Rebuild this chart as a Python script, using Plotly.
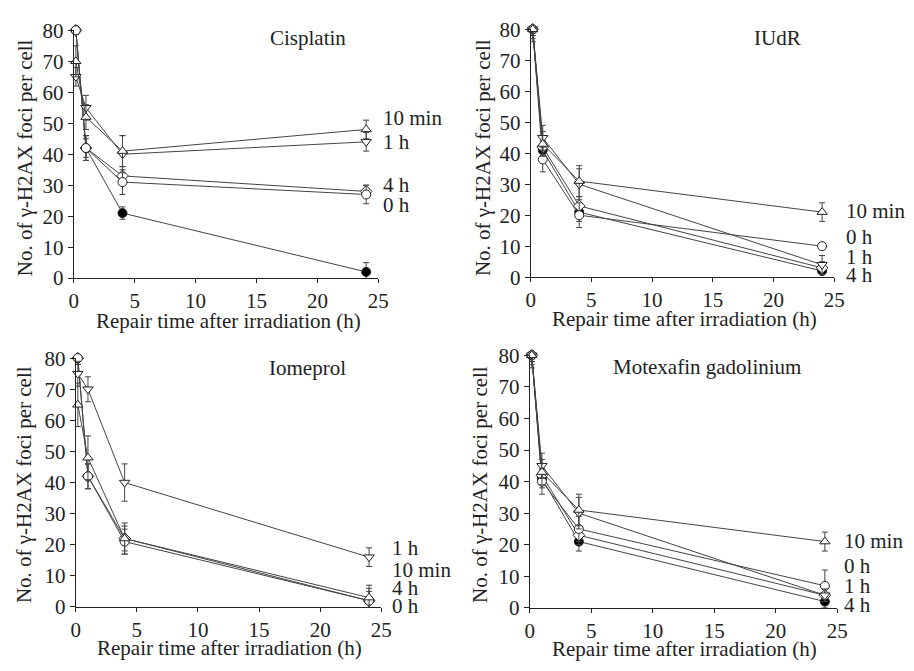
import plotly.graph_objects as go
from plotly.subplots import make_subplots

times = [0.17, 1, 4, 24]
panels = ["Cisplatin", "IUdR", "Iomeprol", "Motexafin gadolinium"]

cis_0h = [80, 42, 31, 27]
cis_10m = [70, 52, 41, 48]
cis_1h = [65, 55, 40, 44]
cis_4h = [80, 42, 33, 28]
cis_ctl = [80, 42, 21, 2]
cis_err = {"0 h": [1, 4, 4, 3], "10 min": [5, 4, 5, 3], "1 h": [3, 4, 6, 3],
           "4 h": [1, 4, 3, 2], "Control": [1, 3, 2, 3]}

iudr_0h = [80, 38, 20, 10]
iudr_10m = [80, 43, 31, 21]
iudr_1h = [80, 45, 30, 4]
iudr_4h = [80, 42, 23, 3]
iudr_ctl = [80, 41, 21, 2]
iudr_err = {"0 h": [2, 4, 4, 1], "10 min": [3, 4, 5, 3], "1 h": [4, 4, 5, 3],
            "4 h": [2, 3, 3, 2], "Control": [2, 3, 3, 1]}

iom_0h = [80, 42, 21, 2]
iom_10m = [65, 48, 22, 3]
iom_1h = [75, 70, 40, 16]
iom_4h = [80, 42, 22, 2]
iom_err = {"0 h": [2, 4, 4, 3], "10 min": [7, 7, 4, 4], "1 h": [4, 4, 6, 3],
           "4 h": [2, 4, 5, 4]}

mgd_0h = [80, 40, 25, 7]
mgd_10m = [80, 43, 31, 21]
mgd_1h = [80, 45, 30, 4]
mgd_4h = [80, 42, 23, 4]
mgd_ctl = [80, 41, 21, 2]
mgd_err = {"0 h": [2, 4, 4, 5], "10 min": [3, 4, 5, 3], "1 h": [4, 4, 5, 2],
           "4 h": [2, 3, 3, 2], "Control": [2, 3, 3, 2]}

data = [
    {"0 h": cis_0h, "10 min": cis_10m, "1 h": cis_1h, "4 h": cis_4h, "Control": cis_ctl},
    {"0 h": iudr_0h, "10 min": iudr_10m, "1 h": iudr_1h, "4 h": iudr_4h, "Control": iudr_ctl},
    {"0 h": iom_0h, "10 min": iom_10m, "1 h": iom_1h, "4 h": iom_4h},
    {"0 h": mgd_0h, "10 min": mgd_10m, "1 h": mgd_1h, "4 h": mgd_4h, "Control": mgd_ctl},
]
errors = [cis_err, iudr_err, iom_err, mgd_err]

end_labels = [
    [("10 min", 51.7), ("1 h", 43.9), ("4 h", 30.2), ("0 h", 23.6)],
    [("10 min", 21.4), ("0 h", 13.1), ("1 h", 6.6), ("4 h", 0.6)],
    [("1 h", 19.0), ("10 min", 12.0), ("4 h", 6.0), ("0 h", 0.3)],
    [("10 min", 21.2), ("0 h", 13.2), ("1 h", 6.9), ("4 h", 1.0)],
]
label_x = [25.2, 25.8, 25.7, 25.4]

marker_styles = {
    "0 h": dict(symbol="circle", color="white", size=9),
    "10 min": dict(symbol="triangle-up", color="white", size=9),
    "1 h": dict(symbol="triangle-down", color="white", size=9),
    "4 h": dict(symbol="diamond", color="white", size=9),
    "Control": dict(symbol="circle", color="black", size=9),
}

FONT = "Liberation Serif, Times New Roman, serif"
INK = "#222222"
LINE = "#444444"

fig = make_subplots(rows=2, cols=2)
W, H = 914, 671
boxes = [(70, 380, 19, 276), (535, 844, 18, 275), (72, 383, 359, 617), (534, 847, 356, 618)]
title_pos = [(308, 27), (786, 27), (308, 369), (714, 368)]
xt_pos = [(227, 320), (692, 318), (228, 660), (692, 661)]
yt_pos = [(20, 151), (486, 151), (20, 490), (484, 490)]

order = ["Control", "4 h", "0 h", "1 h", "10 min"]
for i in range(4):
    r, c = i // 2 + 1, i % 2 + 1
    for name in order:
        if name not in data[i]:
            continue
        ms = marker_styles[name]
        fig.add_trace(go.Scatter(
            x=times, y=data[i][name], mode="lines+markers", name=name,
            showlegend=False, cliponaxis=False,
            line=dict(color=LINE, width=1),
            marker=dict(symbol=ms["symbol"], size=ms["size"], color=ms["color"],
                        line=dict(color=INK, width=1)),
            error_y=dict(type="data", array=errors[i][name], visible=True,
                         color=LINE, thickness=1, width=3),
        ), row=r, col=c)

layout_updates = {}
annotations = []


def txt(text, px, py, xanchor="center", angle=0):
    return dict(text=text, x=px / W, y=1 - py / H, xref="paper", yref="paper",
                xanchor=xanchor, yanchor="middle", showarrow=False, textangle=angle,
                font=dict(family=FONT, size=21, color=INK))


for i in range(4):
    x0, x1, yt, yb = boxes[i]
    sfx = "" if i == 0 else str(i + 1)
    layout_updates["xaxis" + sfx] = dict(
        domain=[x0 / W, x1 / W], range=[0, 25], tickvals=[0, 5, 10, 15, 20, 25],
        showgrid=False, zeroline=False, showline=True, linecolor=INK, linewidth=1,
        ticks="outside", ticklen=4, tickcolor=INK,
        tickfont=dict(family=FONT, size=21, color=INK))
    layout_updates["yaxis" + sfx] = dict(
        domain=[1 - yb / H, 1 - yt / H], range=[0, 80],
        tickvals=[0, 10, 20, 30, 40, 50, 60, 70, 80],
        showgrid=False, zeroline=False, showline=True, linecolor=INK, linewidth=1,
        ticks="outside", ticklen=5, tickcolor=INK,
        tickfont=dict(family=FONT, size=21, color=INK))
    annotations.append(txt(panels[i], *title_pos[i]))
    annotations.append(txt("Repair time after irradiation (h)", *xt_pos[i]))
    annotations.append(txt("No. of γ-H2AX foci per cell", *yt_pos[i], angle=-90))
    for t, yv in end_labels[i]:
        px = x0 + label_x[i] / 25 * (x1 - x0)
        py = yb - yv / 80 * (yb - yt)
        annotations.append(txt(t, px, py, xanchor="left"))

fig.update_layout(**layout_updates)
fig.update_layout(
    width=W, height=H, margin=dict(l=0, r=0, t=0, b=0),
    paper_bgcolor="white", plot_bgcolor="white",
    annotations=annotations, showlegend=False,
)

fig.write_html("out.html")
